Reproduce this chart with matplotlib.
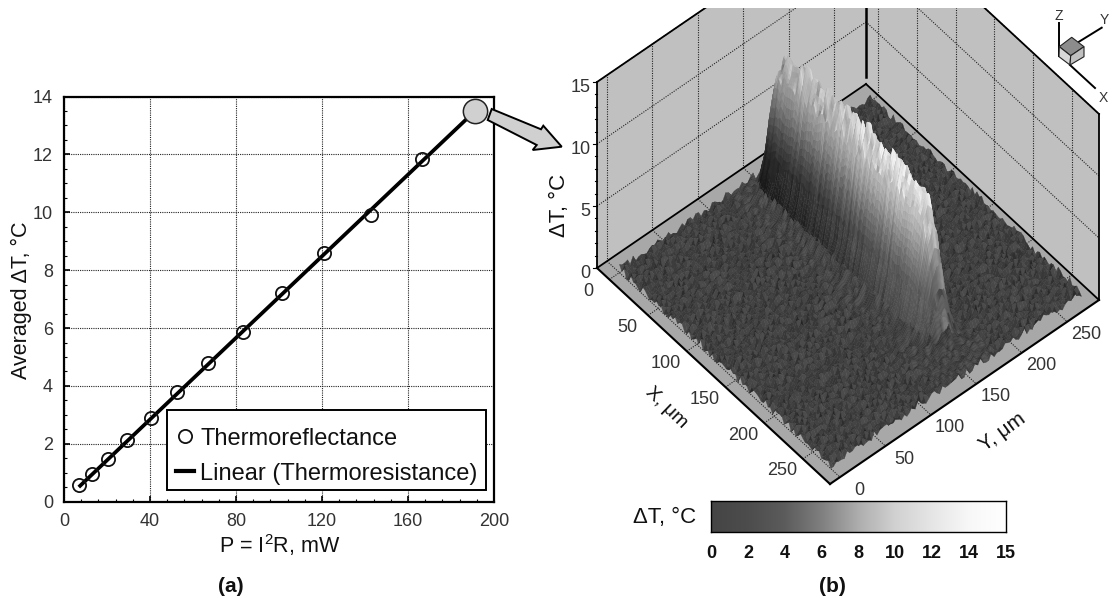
import numpy as np
import matplotlib
matplotlib.use('Agg')
import matplotlib.pyplot as plt
from matplotlib.collections import PolyCollection
from matplotlib.colors import LinearSegmentedColormap
from matplotlib.patches import Polygon, Rectangle

plt.rcParams['font.family'] = ['Liberation Sans', 'DejaVu Sans']
plt.rcParams['mathtext.default'] = 'regular'

# ---- panel (a) data
power_mw = [7, 13.1, 20.4, 29.4, 40.5, 52.6, 67, 83.3, 101.2, 120.7, 142.7, 166.5]
delta_t = [0.58, 0.94, 1.46, 2.13, 2.88, 3.78, 4.8, 5.85, 7.2, 8.58, 9.9, 11.85]
fit_x = [7.5, 191.2]
fit_y = [0.55, 13.5]
big_x = [191.2]
big_y = [13.5]
xticks_a = [0, 40, 80, 120, 160, 200]
yticks_a = [0, 2, 4, 6, 8, 10, 12, 14]

# ---- panel (b) surface estimates
ridge_x = [12, 16, 20, 25, 30, 45, 60, 75, 90, 105, 120, 135, 150, 165, 180, 195, 205, 214, 223, 231, 240, 250]
ridge_h = [0, 3, 8.5, 10, 10.8, 11.3, 11.5, 11.5, 11.4, 11.4, 11.3, 11.3, 11.2, 11.2, 11.1, 11.0, 10.9, 10.5, 7.8, 4.3, 1.5, 0]
section_y = [118, 128, 135, 140, 145, 150, 155, 160, 165, 172]
section_f = [0, .04, .12, .28, .55, .85, 1, .95, .5, 0]
light_x = [20, 100, 160, 220]
light_d = [-.14, -.07, .02, .08]
streak_a = [.97, 1.03, .94, 1.05, .99, .92, 1.06, .96, 1.02, .9, 1.04, .98, 1.07, .93, 1.0, .95, 1.03]
streak_b = [1.0, .97, 1.03, .99, 1.04, .96, 1.01, 1.02, .98, 1.03, .97]
tile_a = [
    [.2, .9, .4, 1.1, .3, .7, .1, 1.0, .5, .8, .2],
    [.8, .3, 1.2, .1, .9, .4, 1.1, .2, .7, .3, 1.0],
    [.4, 1.0, .2, .7, .5, 1.2, .3, .6, 1.1, .1, .6],
    [1.1, .1, .8, .4, 1.0, .2, .9, .4, .2, 1.0, .3],
    [.3, .7, .5, 1.2, .2, .8, .5, 1.1, .6, .4, .9],
    [.9, .4, 1.0, .3, .7, .1, 1.0, .3, .8, 1.2, .2],
    [.1, 1.1, .3, .8, .4, 1.1, .2, .7, .1, .5, 1.0],
    [.7, .5, .9, .2, 1.2, .5, .8, .4, 1.0, .3, .7],
    [1.0, .2, .6, 1.0, .3, .9, .1, 1.2, .4, .8, .1],
    [.5, .8, .1, .7, .6, .3, 1.0, .5, .9, .2, 1.1],
    [.2, 1.2, .7, .4, 1.0, .6, .2, .8, .3, 1.0, .4],
    [.9, .3, 1.1, .2, .5, 1.2, .7, .1, .9, .6, .2],
    [.6, .7, .2, .9, .1, .4, 1.0, .6, .3, 1.1, .8],
]
tile_b = [
    [.3, -.2, .1, .4, -.3, .2, -.1, .3, -.2],
    [-.2, .4, -.3, .1, .2, -.4, .3, .0, .2],
    [.1, -.1, .3, -.4, .4, .1, -.2, .2, -.3],
    [.4, .2, -.2, .3, -.1, -.3, .4, -.2, .1],
    [-.3, .1, .4, -.2, .2, .3, -.4, .1, .3],
    [.2, -.4, .0, .3, -.2, .1, .2, -.3, .4],
    [-.1, .3, -.3, .2, .4, -.2, .1, .4, -.1],
]
# row and column shifts that break up the repeat of the texture tiles
tile_shift_i = [0, 5, 2, 9, 3, 7, 1, 10, 4, 8, 6, 2, 9, 0, 5, 3, 10, 7, 1]
tile_shift_j = [3, 0, 8, 5, 11, 2, 7, 12, 1, 9, 4, 6, 10, 0, 7, 3, 11, 5, 2, 8, 12, 1, 4]
NOISE_SCALE = 0.45
grid_x = list(range(0, 276, 3))
grid_y = list(range(0, 279, 3))
grid_y_fine = list(range(0, 120, 3)) + list(range(120, 180, 1)) + list(range(180, 279, 3))

# ---- axis ticks and colours
ticks_xy = [0, 50, 100, 150, 200, 250]
ticks_z = [5, 10, 15]
cbar_labels = ['0', '2', '4', '6', '8', '10', '12', '14', '15']
cbar_z = [0, 2, 4, 6, 8, 10, 12, 14, 15]
cbar_grey = [.27, .30, .36, .50, .68, .82, .90, .97, 1.0]

# ---- projection of the 3D box on the page (pixels)
XMIN, XMAX, YMIN, YMAX = -16, 285, -11, 285
ORIGIN = (597, 268)
UX = (233 / 301, 216 / 301)
UY = (269 / 296, -184 / 296)
UZ = 12.4


def proj(x, y, z=0):
    x, y, z = np.asarray(x, float), np.asarray(y, float), np.asarray(z, float)
    px = ORIGIN[0] + UX[0] * (x - XMIN) + UY[0] * (y - YMIN)
    py = ORIGIN[1] + UX[1] * (x - XMIN) + UY[1] * (y - YMIN) - UZ * z
    return px, py


W, H = 1112, 598
fig = plt.figure(figsize=(W / 100, H / 100), dpi=100)

# ================ panel (a)
L, R, T, B = 64, 494, 96.5, 501.7
ax = fig.add_axes([L / W, 1 - B / H, (R - L) / W, (B - T) / H])
ax.set_xlim(0, 200)
ax.set_ylim(0, 14)
ax.set_xticks(xticks_a)
ax.set_yticks(yticks_a)
ax.set_xticks(np.arange(0, 201, 8), minor=True)
ax.set_yticks(np.arange(0, 14.1, 0.5), minor=True)
ax.grid(True, which='major', color='#222222', ls=(0, (1, 1)), lw=0.8)
ax.tick_params(which='major', direction='in', length=4, width=1.2, labelsize=13,
               labelcolor='#333333', pad=8)
ax.tick_params(which='minor', direction='in', length=2.5, width=0.8)
for s in ax.spines.values():
    s.set_linewidth(1.6)
ax.plot(fit_x, fit_y, color='black', lw=2.7, label='Linear (Thermoresistance)', zorder=3)
ax.plot(power_mw, delta_t, 'o', mfc='none', mec='#111111', ms=9.5, mew=1.3,
        label='Thermoreflectance', zorder=4, clip_on=False)
ax.plot(big_x, big_y, 'o', mfc='#d0d0d0', mec='#222222', ms=17.5, mew=1.1, zorder=5, clip_on=False)
ax.add_patch(Rectangle(((167 - L) / (R - L), (B - 490) / (B - T)), (486 - 167) / (R - L), 80 / (B - T),
                       transform=ax.transAxes, fc='white', ec='black', lw=1.4, zorder=5.5))
h, l = ax.get_legend_handles_labels()
leg = ax.legend(h[::-1], l[::-1], loc='lower left',
                bbox_to_anchor=((167 - L) / (R - L), (B - 494) / (B - T), (486 - 167) / (R - L), (80) / (B - T)),
                mode='expand', borderaxespad=0, frameon=False,
                fontsize=17, handlelength=0.75, handletextpad=0.25, labelspacing=0.55,
                borderpad=0.4, labelcolor='#111111')
leg.set_zorder(6)
leg.legend_handles[1].set_linewidth(3)

# ================ overlay in page pixels
ov = fig.add_axes([0, 0, 1, 1], facecolor='none')
ov.set_xlim(0, W)
ov.set_ylim(H, 0)
ov.axis('off')
clip = Rectangle((0, 8), W, H, transform=ov.transData)

# arrow between the panels
arrow_pts = [(491.7, 109), (541, 129.3), (543.3, 125.7), (561.7, 146.7), (532.7, 150), (536.7, 145), (487.7, 120)]
ov.add_patch(Polygon(arrow_pts, closed=True, fc='#d0d0d0', ec='black', lw=1.4, zorder=7))

# walls
ZTOP = 15
wall_left = np.array(proj([XMIN, XMIN, XMIN, XMIN], [YMIN, YMAX, YMAX, YMIN], [0, 0, ZTOP, ZTOP])).T
wall_right = np.array(proj([XMIN, XMAX, XMAX, XMIN], [YMAX, YMAX, YMAX, YMAX], [0, 0, ZTOP, ZTOP])).T
floor = np.array(proj([XMIN, XMAX, XMAX, XMIN], [YMIN, YMIN, YMAX, YMAX])).T
for poly, col in ((wall_left, '#c0c0c0'), (wall_right, '#c0c0c0'), (floor, '#a8a8a8')):
    p = Polygon(poly, closed=True, fc=col, ec='none', zorder=1)
    ov.add_patch(p)
    p.set_clip_path(clip)


def seg(xs, ys, zs, **kw):
    px, py = proj(xs, ys, zs)
    line, = ov.plot(px, py, **kw)
    line.set_clip_path(clip)
    return line


dots = dict(color='#222222', lw=0.8, ls=(0, (1, 1.2)), zorder=1.5)
for t in ticks_xy:
    seg([XMIN, XMIN], [t, t], [0, ZTOP], **dots)
    seg([t, t], [YMAX, YMAX], [0, ZTOP], **dots)
    seg([t, t], [YMIN, YMAX], [0, 0], **dots)
    seg([XMIN, XMAX], [t, t], [0, 0], **dots)
for t in ticks_z:
    seg([XMIN, XMIN], [YMIN, YMAX], [t, t], **dots)
    seg([XMIN, XMAX], [YMAX, YMAX], [t, t], **dots)

solid = dict(color='black', lw=1.3, zorder=2)
seg([XMIN, XMIN], [YMIN, YMAX], [0, 0], **solid)
seg([XMIN, XMAX], [YMAX, YMAX], [0, 0], **solid)
seg([XMIN, XMIN], [YMIN, YMIN], [0, ZTOP], **solid)
seg([XMAX, XMAX], [YMAX, YMAX], [0, ZTOP], **solid)
seg([XMIN, XMIN], [YMAX, YMAX], [0.6, ZTOP], color='black', lw=1.8, zorder=2)
seg([XMIN, XMIN], [YMIN, YMAX], [ZTOP, ZTOP], **solid)
seg([XMIN, XMAX], [YMAX, YMAX], [ZTOP, ZTOP], **solid)

# surface: coarse noise texture, resampled along y on a grid that is finer across the ridge
gx = np.array(grid_x, float)
gy0 = np.array(grid_y, float)
gy = np.array(grid_y_fine, float)
ta, tb = np.array(tile_a), np.array(tile_b)
i0, j0 = np.meshgrid(np.arange(gx.size), np.arange(gy0.size), indexing='ij')
si = np.array(tile_shift_i)[j0 % len(tile_shift_i)]
sj = np.array(tile_shift_j)[i0 % len(tile_shift_j)]
noise0 = np.clip(ta[(i0 + si) % ta.shape[0], (j0 + sj) % ta.shape[1]]
                 + tb[(i0 + sj) % tb.shape[0], (j0 + si) % tb.shape[1]], 0, None) * NOISE_SCALE
noise = np.array([np.interp(gy, gy0, col) for col in noise0])
ridge = np.interp(gx, ridge_x, ridge_h)
idx = np.arange(gx.size)
streak = np.array(streak_a)[idx % len(streak_a)] * np.array(streak_b)[idx % len(streak_b)]
streak_geom = 1 + 0.6 * (streak - 1)
section = np.interp(gy, section_y, section_f)
Z = noise + np.outer(ridge * streak_geom, section)

ii, jj = np.meshgrid(idx, np.arange(gy.size), indexing='ij')
GX, GY = np.meshgrid(gx, gy, indexing='ij')
PX, PY = proj(GX, GY, Z)
quads = np.stack([
    np.stack([PX[:-1, :-1], PY[:-1, :-1]], -1),
    np.stack([PX[1:, :-1], PY[1:, :-1]], -1),
    np.stack([PX[1:, 1:], PY[1:, 1:]], -1),
    np.stack([PX[:-1, 1:], PY[:-1, 1:]], -1),
], axis=2).reshape(-1, 4, 2)
zmean = 0.25 * (Z[:-1, :-1] + Z[1:, :-1] + Z[1:, 1:] + Z[:-1, 1:])
dn = noise[1:, :-1] - noise[:-1, :-1]
sec_c = section[:-1][None, :]
on_ridge = zmean > 1.5
top_band = sec_c > .8
shade_floor = np.clip(-0.16 * dn, -.09, .06)
shade_top = np.clip(-0.3 * dn, -.3, .12)
shade = np.where(on_ridge, np.where(top_band, shade_top, 0.1 * shade_top), shade_floor)
face_dark = np.clip(0.015 * (Z[:-1, 1:] - Z[:-1, :-1]) / np.maximum(np.diff(gy)[None, :], 1) * 3, 0, .04) * on_ridge
column = (streak - 1)[:-1, None] * 0.35 * on_ridge
light = np.interp(gx[:-1], light_x, light_d)[:, None] * on_ridge
grey = np.clip(np.interp(zmean, cbar_z, cbar_grey) - 0.04 + shade - face_dark + column + light, 0, 1)
yc = 0.5 * (gy[:-1] + gy[1:])
depth = (gx[:-1, None] - yc[None, :]).ravel()
order = np.argsort(depth, kind='stable')
cols = np.repeat(grey.ravel()[order][:, None], 3, axis=1)
pc = PolyCollection(quads[order], facecolors=cols, edgecolors=cols, linewidths=0.2, zorder=3)
ov.add_collection(pc)

# front floor edges, drawn on top
seg([XMIN, XMAX], [YMIN, YMIN], [0, 0], color='black', lw=1.5, zorder=4)
seg([XMAX, XMAX], [YMIN, YMAX], [0, 0], color='black', lw=1.5, zorder=4)

# z ticks
for zv in np.arange(0, 15.01, 1):
    px, py = proj(XMIN, YMIN, zv)
    ln = 4 if zv % 5 == 0 else 2
    ov.plot([px - ln, px], [py, py], color='black', lw=0.8, zorder=2)

tc = '#333333'
for t, (dx, dy) in zip([15, 10, 5, 0], [(-16, 6), (-16, 6), (-12, 5), (-12, 6)]):
    px, py = proj(XMIN, YMIN, t)
    ov.text(px + dx, py + dy, str(t), ha='center', va='center', fontsize=13, color=tc)
for t in ticks_xy:
    px, py = proj(t, YMIN)
    ov.text(px - 21, py + 12, str(t), ha='center', va='center', fontsize=13, color=tc)
    px, py = proj(XMAX, t)
    ov.text(px + 19, py + 13, str(t), ha='center', va='center', fontsize=13, color=tc)

ov.text(559, 205, 'ΔT, °C', rotation=90, ha='center', va='center', fontsize=16, color='#111111')
ov.text(666, 408, 'X, μm', rotation=-44, ha='center', va='center', fontsize=14, color='#111111')
ov.text(1002, 432, 'Y, μm', rotation=36, ha='center', va='center', fontsize=15, color='#111111')
ov.text(280, 545, 'P = I$^2$R, mW', ha='center', va='center', fontsize=15.5, color='#111111')
ov.text(21, 300, 'Averaged ΔT, °C', rotation=90, ha='center', va='center', fontsize=15.5, color='#111111')
ov.text(231, 587, '(a)', ha='center', va='center', fontsize=15, fontweight='bold', color='#111111')
ov.text(832, 587, '(b)', ha='center', va='center', fontsize=15, fontweight='bold', color='#111111')

# triad
ov.plot([1059, 1059], [23, 56], color='black', lw=1.4, zorder=2)
ov.plot([1079, 1101.7], [41.7, 27.7], color='black', lw=1.4, zorder=2)
ov.plot([1070, 1095], [65, 88], color='black', lw=1.4, zorder=2)
ov.add_patch(Polygon([(1071.7, 37.3), (1084, 46.7), (1070.7, 55.7), (1059.3, 46.7)], fc='#8c8c8c', ec='#222222', lw=0.8, zorder=3))
ov.add_patch(Polygon([(1059.3, 46.7), (1070.7, 55.7), (1070, 65), (1059, 56.7)], fc='#d8d8d8', ec='#222222', lw=0.8, zorder=3))
ov.add_patch(Polygon([(1070.7, 55.7), (1084, 46.7), (1084, 56.7), (1070, 65)], fc='#c0c0c0', ec='#222222', lw=0.8, zorder=3))
ov.text(1059, 16, 'Z', ha='center', va='center', fontsize=10, color=tc)
ov.text(1104, 20, 'Y', ha='center', va='center', fontsize=10, color=tc)
ov.text(1103, 97.5, 'X', ha='center', va='center', fontsize=10, color=tc)

# colour bar
CL, CR, CT, CB = 711, 1006, 501, 532
cax = fig.add_axes([CL / W, 1 - CB / H, (CR - CL) / W, (CB - CT) / H])
cmap = LinearSegmentedColormap.from_list('bar', [(g, g, g) for g in cbar_grey])
pos = np.arange(len(cbar_labels))
cax.imshow(np.linspace(0, pos[-1], 512)[None, :], cmap=cmap, aspect='auto',
           extent=(pos[0], pos[-1], 0, 1), vmin=pos[0], vmax=pos[-1])
cax.set_yticks([])
cax.set_xticks(pos)
cax.set_xticklabels(cbar_labels, fontsize=13, fontweight='bold', color='#111111')
cax.tick_params(length=0, pad=9)
for s in cax.spines.values():
    s.set_linewidth(1.0)
ov.text(665, 518, 'ΔT, °C', ha='center', va='center', fontsize=16, color='#111111')

fig.savefig('out.png', dpi=100)
